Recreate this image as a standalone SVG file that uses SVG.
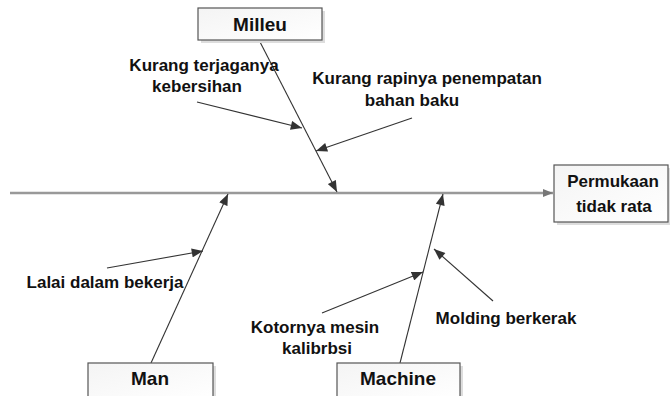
<svg xmlns="http://www.w3.org/2000/svg" width="670" height="396" viewBox="0 0 670 396">
<style>
text{font-family:"Liberation Sans",Arial,sans-serif;font-weight:bold;font-size:17px;fill:#111;text-anchor:middle}
.big{font-size:19px}
.box{fill:url(#g);stroke:#555;stroke-width:1.2}
.sh{fill:#ddd}
.ln{stroke:#333;stroke-width:1.1;fill:none;marker-end:url(#ah)}
.spine{stroke:#999;stroke-width:2.5;fill:none;marker-end:url(#ahg)}
</style>
<defs>
<linearGradient id="g" x1="0" y1="0" x2="1" y2="1">
<stop offset="0" stop-color="#f4f4f4"/><stop offset="1" stop-color="#ffffff"/>
</linearGradient>
<marker id="ah" viewBox="0 0 10 8" refX="10" refY="4" markerWidth="12" markerHeight="9" orient="auto" markerUnits="userSpaceOnUse">
<path d="M0,0 L10,4 L0,8 z" fill="#333"/>
</marker>
<marker id="ahg" viewBox="0 0 10 8" refX="10" refY="4" markerWidth="10" markerHeight="8" orient="auto" markerUnits="userSpaceOnUse">
<path d="M0,0 L10,4 L0,8 z" fill="#777"/>
</marker>
</defs>
<g id="connectors">
<line class="spine" x1="10" y1="193" x2="553" y2="193"/>
<line class="ln" x1="259" y1="40" x2="337" y2="192"/>
<line class="ln" x1="197" y1="102" x2="302" y2="128"/>
<line class="ln" x1="412" y1="118" x2="316" y2="151"/>
<line class="ln" x1="151" y1="363" x2="228" y2="194"/>
<line class="ln" x1="107" y1="268" x2="203" y2="251"/>
<line class="ln" x1="400" y1="363" x2="443" y2="194"/>
<line class="ln" x1="322" y1="313" x2="423" y2="272"/>
<line class="ln" x1="493" y1="301" x2="434" y2="249"/>
</g>
<g id="milleu">
<rect class="sh" x="201" y="11" width="124" height="32"/>
<rect class="box" x="198" y="8" width="124" height="32"/>
<text class="big" x="260" y="31">Milleu</text>
</g>
<g id="effect">
<rect class="sh" x="557" y="168" width="115" height="57"/>
<rect class="box" x="554" y="165" width="114" height="57"/>
<text x="613" y="187">Permukaan</text>
<text x="614" y="212">tidak rata</text>
</g>
<g id="man">
<rect class="sh" x="91" y="366" width="125" height="34"/>
<rect class="box" x="88" y="363" width="125" height="36"/>
<text class="big" x="150" y="385">Man</text>
</g>
<g id="machine">
<rect class="sh" x="340" y="366" width="123" height="34"/>
<rect class="box" x="337" y="363" width="123" height="36"/>
<text class="big" x="398" y="385">Machine</text>
</g>
<g id="cause-kebersihan">
<text x="204" y="71">Kurang terjaganya</text>
<text x="197" y="92">kebersihan</text>
</g>
<g id="cause-penempatan">
<text x="427" y="84">Kurang rapinya penempatan</text>
<text x="412" y="106">bahan baku</text>
</g>
<g id="cause-lalai">
<text x="105" y="288">Lalai dalam bekerja</text>
</g>
<g id="cause-kotornya">
<text x="315" y="333">Kotornya mesin</text>
<text x="317" y="354">kalibrbsi</text>
</g>
<g id="cause-molding">
<text x="506" y="324">Molding berkerak</text>
</g>
</svg>
